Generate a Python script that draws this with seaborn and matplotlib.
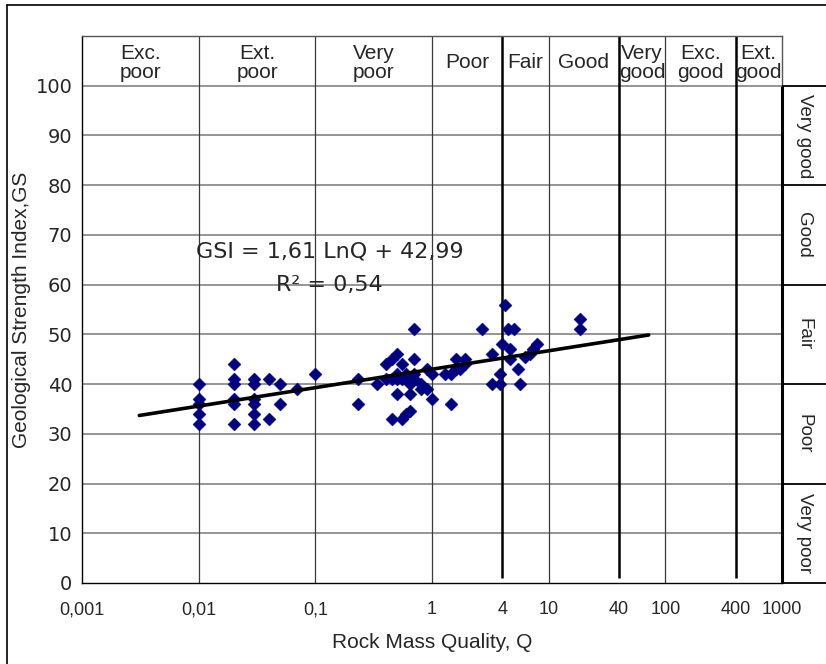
import numpy as np
import pandas as pd
import matplotlib
matplotlib.use("Agg")
import matplotlib.pyplot as plt
import seaborn as sns
from matplotlib.lines import Line2D
from matplotlib.ticker import NullLocator

# punkty pomiarowe: Q i GSI
q_vals = [0.01, 0.01, 0.01, 0.01, 0.01,
          0.02, 0.02, 0.02, 0.02, 0.02, 0.02,
          0.03, 0.03, 0.03, 0.03, 0.03, 0.03,
          0.04, 0.04, 0.05, 0.05, 0.07, 0.1,
          0.23, 0.23, 0.34, 0.4, 0.4, 0.45, 0.45, 0.45,
          0.5, 0.5, 0.5, 0.5, 0.55, 0.55, 0.55, 0.6, 0.6, 0.6,
          0.65, 0.65, 0.65, 0.7, 0.7, 0.7, 0.7, 0.8, 0.8, 0.9, 0.9,
          1.0, 1.0, 1.3, 1.45, 1.45, 1.6, 1.6, 1.75, 1.9, 1.9,
          2.7, 3.3, 3.3, 3.8, 3.8, 4.0, 4.2, 4.5, 4.7, 4.7, 5.0,
          5.5, 5.7, 6.3, 6.9, 7.4, 7.9, 18.6, 18.6]
gsi_vals = [40, 37, 36, 34, 32,
            44, 41, 40, 37, 36, 32,
            41, 40, 37, 36, 34, 32,
            41, 33, 40, 36, 39, 42,
            41, 36, 40, 44, 41, 45, 41, 33,
            46, 42, 38, 41, 44, 41, 33, 41, 34, 42,
            38, 34.5, 40, 51, 45, 41, 42, 40, 39, 43, 39,
            42, 37, 42, 36, 42, 45, 43, 43, 45, 44,
            51, 40, 46, 42, 40, 48, 56, 51, 45, 47, 51,
            43, 40, 45.5, 46, 47, 48, 53, 51]

# linia trendu z wykresu
a_coef, b_coef = 1.61, 42.99
q_line = [0.0031, 72]

x_ticks = [0.001, 0.01, 0.1, 1, 4, 10, 40, 100, 400, 1000]
x_ticklabels = ["0,001", "0,01", "0,1", "1", "4", "10", "40", "100", "400", "1000"]

q_bounds = [0.001, 0.01, 0.1, 1, 4, 10, 40, 100, 400, 1000]
q_classes = ["Exc.\npoor", "Ext.\npoor", "Very\npoor", "Poor", "Fair", "Good",
             "Very\ngood", "Exc.\ngood", "Ext.\ngood"]

gsi_bounds = [0, 20, 40, 60, 80, 100]
gsi_classes = ["Very poor", "Poor", "Fair", "Good", "Very good"]

sns.set_style("white")
plt.rcParams['font.family'] = ['Liberation Sans', 'DejaVu Sans']

dane = pd.DataFrame({"Q": q_vals, "GSI": gsi_vals})
ql = np.geomspace(q_line[0], q_line[1], 50)
trend = pd.DataFrame({"Q": ql, "GSI": a_coef * np.log(ql) + b_coef})

fig = plt.figure(figsize=(8.26, 6.64), dpi=100)
ax = fig.add_axes([82/826, 81/664, 700/826, 547/664])
ax.set_xscale("log")

# siatka
for v in range(10, 101, 10):
    ax.axhline(v, color="#8c8c8c", lw=1.3, zorder=0)
ax.vlines([0.01, 0.1, 1, 10, 100], 0, 110, color="#3a3a3a", lw=0.9, zorder=0)
ax.vlines([4, 40, 400], 1, 110, color="black", lw=1.8, zorder=1)

sns.scatterplot(data=dane, x="Q", y="GSI", marker="D", s=44, color="#000080",
                edgecolor="#000080", linewidth=0.3, ax=ax, zorder=3)
sns.lineplot(data=trend, x="Q", y="GSI", color="black", lw=2.6, ax=ax, zorder=4)

ax.set_xlim(0.001, 1000)
ax.set_ylim(0, 110)
ax.set_xticks(x_ticks)
ax.set_xticklabels(x_ticklabels, fontsize=13)
ax.xaxis.set_minor_locator(NullLocator())
ax.set_yticks(range(0, 101, 10))
ax.set_yticklabels([str(v) for v in range(0, 101, 10)], fontsize=14, family="DejaVu Sans")
ax.tick_params(axis="both", direction="out", length=5, width=0.8, color="black", pad=2)
ax.tick_params(axis="x", pad=8)
ax.set_xlabel("Rock Mass Quality, Q", fontsize=15)
ax.xaxis.set_label_coords(0.5, -0.091)
ax.set_ylabel("Geological Strength Index,GS", fontsize=15)
ax.yaxis.set_label_coords(-0.073, 0.5)
for s in ["left", "bottom"]:
    ax.spines[s].set_color("black")
    ax.spines[s].set_linewidth(1.0)
for s in ["top", "right"]:
    ax.spines[s].set_color("#555555")
    ax.spines[s].set_linewidth(1.0)

# klasy Q u góry
for i, lab in enumerate(q_classes):
    xc = np.sqrt(q_bounds[i] * q_bounds[i + 1])
    ax.text(xc, 104.6, lab, ha="center", va="center", fontsize=15, linespacing=1.0)

ax.text(0.133, 66.7, "GSI = 1,61 LnQ + 42,99", ha="center", va="center",
        fontsize=16, family="DejaVu Sans")
ax.text(0.133, 60.0, "R² = 0,54", ha="center", va="center",
        fontsize=16, family="DejaVu Sans")

# klasy GSI po prawej
ax2 = fig.add_axes([782/826, 81/664, 44/826, 497/664])
ax2.set_xlim(0, 1)
ax2.set_ylim(0, 100)
ax2.axis("off")
ax2.hlines(gsi_bounds, 0, 1, color="black", lw=1.3, clip_on=False)
ax2.vlines(0, 0, 100, color="black", lw=2.2, clip_on=False)
for i, lab in enumerate(gsi_classes):
    yc = (gsi_bounds[i] + gsi_bounds[i + 1]) / 2
    ax2.text(0.5, yc, lab, ha="center", va="center", rotation=270, fontsize=13.5)

# ramka
fig.add_artist(Line2D([7/826, 7/826], [0, 1 - 5/664], transform=fig.transFigure, color="black", lw=1.2))
fig.add_artist(Line2D([7/826, 1], [1 - 5/664, 1 - 5/664], transform=fig.transFigure, color="black", lw=1.2))

fig.savefig("out.png", dpi=100)
